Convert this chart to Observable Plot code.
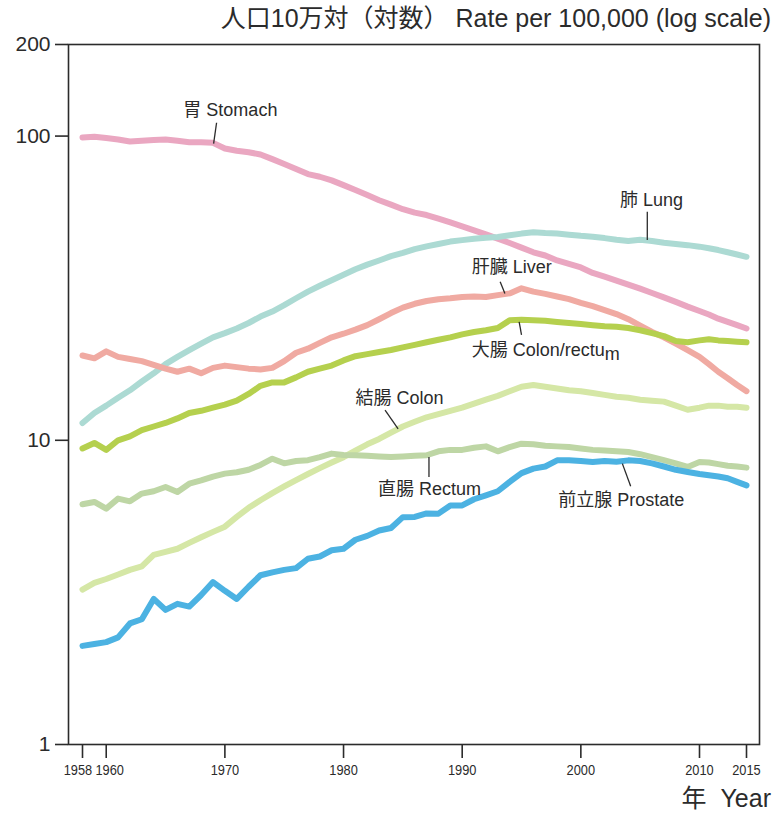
<!DOCTYPE html>
<html>
<head>
<meta charset="utf-8">
<script src="https://cdn.jsdelivr.net/npm/d3@7"></script>
<script src="https://cdn.jsdelivr.net/npm/@observablehq/plot@0.6"></script>
<style>
  body { margin: 0; background: #fff; width: 777px; height: 816px; overflow: hidden; position: relative;
         font-family: "Liberation Sans", Arial, "Noto Sans CJK JP", sans-serif; color: #2b2b2b; }
  #title { position: absolute; top: 0; right: 6px; height: 36px; line-height: 36px;
           font-size: 25px; white-space: nowrap; }
  #caption { height: 36px; line-height: 36px; text-align: right; padding-right: 6px;
             font-size: 25px; white-space: nowrap; }
  #chart svg { display: block; }
</style>
</head>
<body>
<div id="chart"></div>
<div id="caption">年&nbsp; Year</div>
<div id="title">人口10万対（対数） Rate per 100,000 (log scale)</div>
<script>
// Age-adjusted cancer rates by site, 1958–2015 (per 100,000, log scale)
const years = d3.range(1958, 2016);

const stomach = [
  99, 99.5, 98.5, 97.5, 96, 96.5, 97, 97.5, 96.5, 95.5, 95.5, 95,
  91, 89.5, 88.5, 87, 84, 81, 78, 75, 73.5, 71.5,
  69, 66.5, 64, 61.5, 59.5, 57.5, 56, 55, 53.5, 52,
  50.5, 49, 47.5, 46, 44.5, 43, 41.5, 40.5, 39, 38,
  37, 35.5, 34.5, 33.5, 32.5, 31.5, 30.5, 29.5, 28.5, 27.5,
  26.6, 25.9, 25.1, 24.5, 23.9, 23.3];

const lung = [
  11.4, 12.3, 13.0, 13.8, 14.6, 15.6, 16.6, 17.8, 18.8, 19.8, 20.8, 21.8,
  22.5, 23.3, 24.3, 25.5, 26.5, 27.8, 29.3, 30.8, 32.2, 33.6,
  35.0, 36.5, 37.8, 39.0, 40.3, 41.3, 42.5, 43.4, 44.2, 45.0,
  45.5, 46.0, 46.3, 46.6, 47.2, 47.8, 48.3, 48.0, 47.8, 47.4,
  47.0, 46.7, 46.2, 45.6, 45.2, 45.6, 45.2, 44.6, 44.2, 43.8,
  43.3, 42.8, 42.2, 41.5, 40.8, 40.1];

const liver = [
  19.0, 18.6, 19.6, 18.8, 18.5, 18.2, 17.7, 17.2, 16.8, 17.2, 16.6, 17.3,
  17.6, 17.4, 17.2, 17.1, 17.3, 18.2, 19.4, 20.0, 20.9, 21.8,
  22.4, 23.1, 23.9, 25.0, 26.2, 27.3, 28.1, 28.7, 29.1, 29.3,
  29.6, 29.7, 29.6, 30.0, 30.4, 31.6, 30.8, 30.3, 29.7, 29.1,
  28.3, 27.6, 26.8, 26.0, 25.0, 23.8, 22.7, 21.8, 20.8, 19.8,
  18.8, 17.8, 16.8, 16.0, 15.2, 14.5];

const colonRectum = [
  9.4, 9.8, 9.3, 10.0, 10.3, 10.8, 11.1, 11.4, 11.8, 12.3, 12.5, 12.8,
  13.1, 13.5, 14.2, 15.1, 15.5, 15.5, 16.1, 16.8, 17.2, 17.6,
  18.3, 18.9, 19.2, 19.5, 19.8, 20.2, 20.6, 21.0, 21.4, 21.8,
  22.3, 22.7, 23.0, 23.4, 24.8, 24.9, 24.8, 24.7, 24.5, 24.3,
  24.1, 23.9, 23.7, 23.6, 23.4, 23.0, 22.5, 22.0, 21.2, 21.0,
  21.3, 21.5, 21.3, 21.2, 21.1, 21.0];

const colon = [
  3.23, 3.4, 3.5, 3.62, 3.75, 3.85, 4.2, 4.3, 4.4, 4.6, 4.8, 5.0,
  5.2, 5.6, 6.0, 6.35, 6.7, 7.05, 7.4, 7.75, 8.1, 8.45,
  8.8, 9.25, 9.7, 10.1, 10.6, 11.1, 11.5, 11.9, 12.2, 12.5,
  12.8, 13.2, 13.6, 14.0, 14.5, 15.0, 15.2, 15.0, 14.8, 14.6,
  14.5, 14.3, 14.1, 13.9, 13.8, 13.6, 13.5, 13.4, 13.0, 12.6,
  12.8, 13.0, 13.0, 12.9, 12.9, 12.8];

const rectum = [
  6.16, 6.27, 5.96, 6.43, 6.3, 6.68, 6.8, 7.02, 6.76, 7.2, 7.38, 7.6,
  7.77, 7.85, 8.0, 8.3, 8.7, 8.4, 8.55, 8.6, 8.8, 9.04,
  8.95, 8.93, 8.9, 8.85, 8.81, 8.85, 8.9, 8.93, 9.2, 9.3,
  9.3, 9.45, 9.55, 9.2, 9.5, 9.75, 9.7, 9.6, 9.55, 9.5,
  9.4, 9.3, 9.25, 9.2, 9.15, 9.0, 8.8, 8.6, 8.4, 8.17,
  8.48, 8.45, 8.35, 8.25, 8.2, 8.13];

const prostate = [
  2.11, 2.14, 2.17, 2.25, 2.5, 2.58, 3.01, 2.77, 2.9, 2.84, 3.1, 3.42,
  3.2, 3.01, 3.3, 3.6, 3.68, 3.75, 3.8, 4.08, 4.15, 4.35,
  4.4, 4.71, 4.85, 5.05, 5.15, 5.59, 5.6, 5.75, 5.74, 6.1,
  6.11, 6.4, 6.59, 6.8, 7.3, 7.8, 8.07, 8.2, 8.59, 8.6,
  8.55, 8.48, 8.55, 8.5, 8.59, 8.55, 8.4, 8.2, 8.0, 7.87,
  7.75, 7.67, 7.6, 7.5, 7.3, 7.11];

const seriesNames  = ["stomach", "lung", "liver", "colonRectum", "colon", "rectum", "prostate"];
const seriesValues = [stomach, lung, liver, colonRectum, colon, rectum, prostate];
const seriesColors = ["#eaa7c1", "#acdad3", "#f0aaa2", "#b5d04e", "#d5e7a6", "#bed6a5", "#4cb2e2"];

// Tick marks
const xTicks = [1958, 1960, 1970, 1980, 1990, 2000, 2010, 2015];
const yTicks = [1, 10, 100, 200];

// Series labels (anchored at their left edge) and their leader lines
const labelText  = ["胃 Stomach", "肺 Lung", "肝臓 Liver", "大腸 Colon/rectum", "結腸 Colon", "直腸 Rectum", "前立腺 Prostate"];
const labelYear  = [1966.5, 2003.3, 1990.8, 1990.8, 1981.0, 1982.9, 1998.1];
const labelValue = [122, 61.6, 37.0, 19.7, 13.7, 6.9, 6.35];
const leaderYear1  = [1969.3, 2005.6, 1993.2, 1994.8, 1983.5, 1987.2, 2003.5];
const leaderValue1 = [110.6, 56.4, 33.2, 24.5, 12.56, 8.81, 8.38];
const leaderYear2  = [1969.05, 2005.6, 1993.6, 1995.0, 1984.6, 1987.2, 2004.2];
const leaderValue2 = [94.5, 45.5, 30.4, 22.2, 10.9, 7.57, 7.06];

const rows = seriesNames.flatMap((name, i) =>
  years.map((year, j) => ({series: name, year, value: seriesValues[i][j]})));
const labels = labelText.map((text, i) => ({text, year: labelYear[i], value: labelValue[i]}));
const leaders = labelText.map((text, i) => ({
  x1: leaderYear1[i], y1: leaderValue1[i], x2: leaderYear2[i], y2: leaderValue2[i]}));

const chart = Plot.plot({
  width: 777,
  height: 780,
  marginTop: 44,
  marginBottom: 36,
  marginLeft: 68,
  marginRight: 18,
  style: {fontFamily: '"Liberation Sans", Arial, "Noto Sans CJK JP", sans-serif', color: "#2b2b2b", background: "#fff"},
  x: {type: "linear", domain: [1958, 2010, 2015], range: [82, 699, 746]},
  y: {type: "log", domain: [1, 200]},
  color: {domain: seriesNames, range: seriesColors},
  marks: [
    Plot.lineY(rows, {x: "year", y: "value", z: "series", stroke: "series",
      strokeWidth: 6, strokeLinejoin: "round", strokeLinecap: "round"}),
    Plot.frame({stroke: "#2b2b2b", strokeWidth: 1.6}),
    Plot.axisX({ticks: xTicks, tickFormat: d => String(d), tickSize: 14, tickPadding: 6,
      stroke: "#2b2b2b", strokeWidth: 1.6, fontSize: 15, label: null}),
    Plot.axisY({ticks: yTicks, tickFormat: d => String(d), tickSize: 13, tickPadding: 5,
      stroke: "#2b2b2b", strokeWidth: 1.6, fontSize: 21, label: null}),
    Plot.link(leaders, {x1: "x1", y1: "y1", x2: "x2", y2: "y2", stroke: "#2b2b2b", strokeWidth: 1.3}),
    Plot.text(labels, {x: "year", y: "value", text: "text", textAnchor: "start",
      fontSize: 18, fill: "#2b2b2b"})
  ]
});

document.getElementById("chart").appendChild(chart);

// condensed digits for the year labels; the two crowded early years are nudged apart
const yearShift = {"1958": -4.5, "1960": 3.5};
d3.select(chart).selectAll('g[aria-label="x-axis tick label"] text')
  .attr("textLength", 28.5)
  .attr("lengthAdjust", "spacingAndGlyphs")
  .attr("dx", function () { return yearShift[this.textContent] || 0; });

// the colon/rectum label sets its last letter slightly low
d3.select(chart).selectAll("text").filter(function () {
  return this.textContent === "大腸 Colon/rectum";
}).each(function () {
  const t = d3.select(this);
  t.text("大腸 Colon/rectu");
  t.append("tspan").attr("dy", "4").text("m");
});
</script>
</body>
</html>
